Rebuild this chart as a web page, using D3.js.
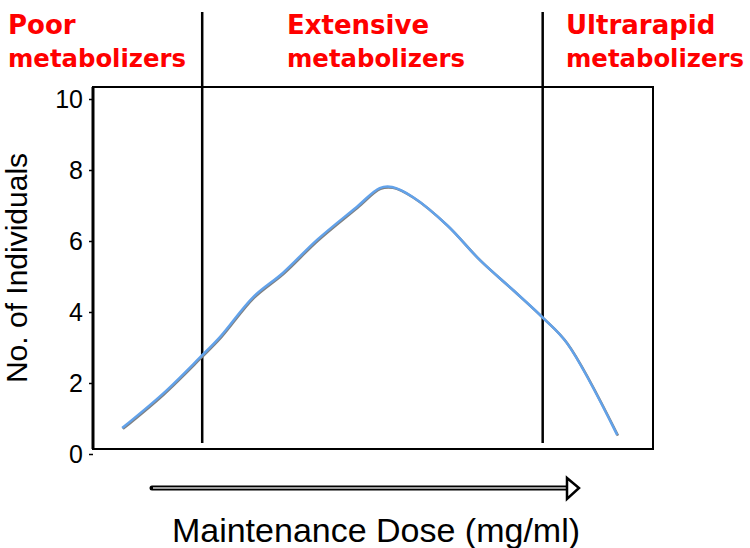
<!DOCTYPE html>
<html>
<head>
<meta charset="utf-8">
<script src="https://cdn.jsdelivr.net/npm/d3@7"></script>
<style>
  body { margin: 0; background: #fff; }
  svg { display: block; }
</style>
</head>
<body>
<div id="canvas"></div>
<script>
const w = 750
const h = 548

// data (dose in arbitrary units 0-100)
const doses = [5.2, 12.5, 19.1, 22.7, 28.6, 33.9, 40.0, 47.1, 51.2, 53.4, 57.1, 63.2, 69.1, 75.0, 80.4, 84.6, 93.6]
const counts = [0.73, 1.70, 2.72, 3.30, 4.42, 5.10, 6.03, 6.96, 7.49, 7.52, 7.24, 6.45, 5.46, 4.62, 3.83, 3.13, 0.54]
const yTicks = [0, 2, 4, 6, 8, 10]
const boundaries = [19.5, 80.3]
const groups = [
	{lines: ['Poor', 'metabolizers'], x: 8},
	{lines: ['Extensive', 'metabolizers'], x: 287},
	{lines: ['Ultrarapid', 'metabolizers'], x: 566}
]

const box = {left: 93, right: 653, top: 87, bottom: 449}

const svg = d3.select('#canvas')
	.append('svg')
	.attr('width', w)
	.attr('height', h);

const x = d3.scaleLinear()
	.domain([0, 100])
	.range([box.left, box.right]);

const y = d3.scaleLinear()
	.domain([0, 10])
	.range([454, 99]);

// frame
svg.append('rect')
	.attr('x', box.left)
	.attr('y', box.top)
	.attr('width', box.right - box.left)
	.attr('height', box.bottom - box.top)
	.attr('fill', 'none')
	.attr('stroke', '#000')
	.attr('stroke-width', 2);

svg.append('line')
	.attr('x1', box.left).attr('x2', box.left)
	.attr('y1', box.top).attr('y2', box.bottom)
	.attr('stroke', '#000')
	.attr('stroke-width', 3);

// y axis
const yAxis = d3.axisLeft(y)
	.tickValues(yTicks)
	.tickSize(4)
	.tickPadding(6);

const yAxisGroup = svg.append('g')
	.attr('transform', `translate(${box.left}, 0)`)
	.call(yAxis)
	.attr('font-size', null)
	.attr('font-family', null);

yAxisGroup.select('.domain').remove();
yAxisGroup.selectAll('line').attr('stroke', '#000').attr('stroke-width', 1.5);
yAxisGroup.selectAll('text')
	.style('font-family', 'Liberation Sans, Arial, sans-serif')
	.style('font-size', '25px')
	.attr('fill', '#000');

// separators
svg.selectAll('.sep')
	.data(boundaries)
	.enter()
	.append('line')
		.attr('class', 'sep')
		.attr('x1', d => x(d)).attr('x2', d => x(d))
		.attr('y1', 12).attr('y2', 443)
		.attr('stroke', '#000')
		.attr('stroke-width', 2.5);

// curve
const pts = doses.map((d, i) => [d, counts[i]]);
const line = d3.line()
	.x(d => x(d[0]))
	.y(d => y(d[1]))
	.curve(d3.curveCatmullRom.alpha(0.5));

svg.append('path')
	.attr('d', line(pts))
	.attr('transform', 'translate(0.8, 0.8)')
	.attr('fill', 'none')
	.attr('stroke', '#808080')
	.attr('stroke-width', 2.5);

svg.append('path')
	.attr('d', line(pts))
	.attr('fill', 'none')
	.attr('stroke', '#62a2ea')
	.attr('stroke-width', 2.5);

// group labels
groups.forEach(g => {
	const t = svg.append('text')
		.attr('font-family', 'Comic Sans MS, DejaVu Sans, sans-serif')
		.attr('font-weight', 'bold')
		.attr('font-size', 26)
		.attr('fill', '#ff0000');
	t.append('tspan').attr('x', g.x).attr('y', 34).text(g.lines[0]);
	t.append('tspan').attr('x', g.x).attr('y', 67)
		.attr('font-size', 24)
		.attr('textLength', 178)
		.attr('lengthAdjust', 'spacingAndGlyphs')
		.text(g.lines[1]);
});

// dose arrow
svg.append('line')
	.attr('x1', 152).attr('x2', 568)
	.attr('y1', 488).attr('y2', 488)
	.attr('stroke', '#000')
	.attr('stroke-width', 5)
	.attr('stroke-linecap', 'round');
svg.append('line')
	.attr('x1', 153).attr('x2', 568)
	.attr('y1', 488).attr('y2', 488)
	.attr('stroke', '#d0d0d0')
	.attr('stroke-width', 1.5);
svg.append('path')
	.attr('d', 'M567,478 L579,488 L567,499 Z')
	.attr('fill', '#fff')
	.attr('stroke', '#000')
	.attr('stroke-width', 2.5)
	.attr('stroke-linejoin', 'miter');

// axis titles
svg.append('text')
	.attr('x', 376)
	.attr('y', 542)
	.attr('text-anchor', 'middle')
	.attr('font-family', 'Liberation Sans, Arial, sans-serif')
	.attr('font-size', 34)
	.text('Maintenance Dose (mg/ml)');

svg.append('text')
	.attr('transform', 'translate(27, 268) rotate(-90)')
	.attr('text-anchor', 'middle')
	.attr('font-family', 'Liberation Sans, Arial, sans-serif')
	.attr('font-size', 30)
	.text('No. of Individuals');
</script>
</body>
</html>
